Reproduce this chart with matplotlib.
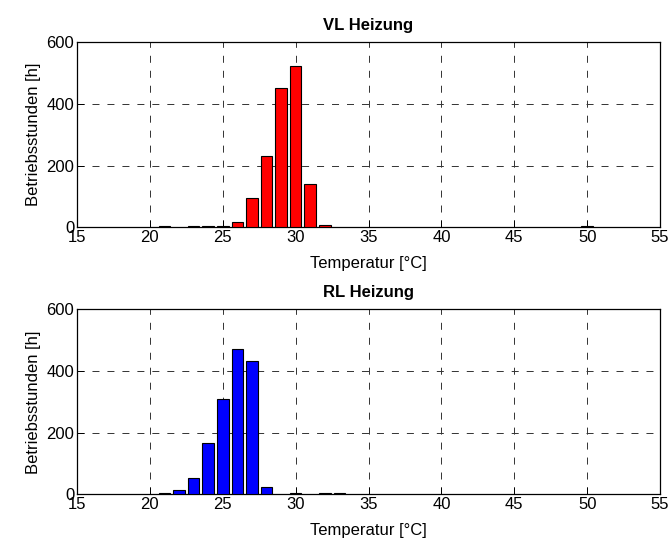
import matplotlib
matplotlib.use('Agg')
import matplotlib.pyplot as plt

plt.rcParams['font.family'] = ['Liberation Sans', 'DejaVu Sans']
plt.rcParams['font.size'] = 12

# Temperaturklassen [°C] und Betriebsstunden [h]
vl_temp = [21, 23, 24, 25, 26, 27, 28, 29, 30, 31, 32, 50]
vl_hours = [3, 3, 3, 3, 17, 95, 230, 453, 522, 139, 9, 3]

rl_temp = [21, 22, 23, 24, 25, 26, 27, 28, 30, 32, 33]
rl_hours = [3, 13, 52, 165, 309, 470, 431, 23, 3, 3, 3]

x_ticks = [15, 20, 25, 30, 35, 40, 45, 50, 55]
y_ticks = [0, 200, 400, 600]

panels = [
    ('VL Heizung', vl_temp, vl_hours, '#ff0000'),
    ('RL Heizung', rl_temp, rl_hours, '#0000ff'),
]

fig = plt.figure(figsize=(6.68, 5.39), dpi=100)
positions = [[0.1153, 0.5783, 0.8728, 0.3432],
             [0.1153, 0.0829, 0.8728, 0.3432]]

for pos, (title, temp, hours, color) in zip(positions, panels):
    ax = fig.add_axes(pos)
    ax.bar(temp, hours, width=0.8, color=color, edgecolor='black', linewidth=0.8, zorder=3)
    ax.set_xlim(15, 55)
    ax.set_ylim(0, 600)
    ax.set_xticks(x_ticks)
    ax.set_yticks(y_ticks)
    ax.grid(True, color='#333333', linestyle=(0, (7.2, 8.2)), linewidth=0.7, zorder=0)
    ax.tick_params(direction='in', length=5, width=0.7, top=False, right=False, pad=2)
    for s in ax.spines.values():
        s.set_linewidth(0.9)
    ax.set_title(title, fontsize=12, fontweight='bold', pad=9)
    ax.set_xlabel('Temperatur [°C]', labelpad=8)
    ax.set_ylabel('Betriebsstunden [h]')

fig.savefig('out.png', dpi=100)
